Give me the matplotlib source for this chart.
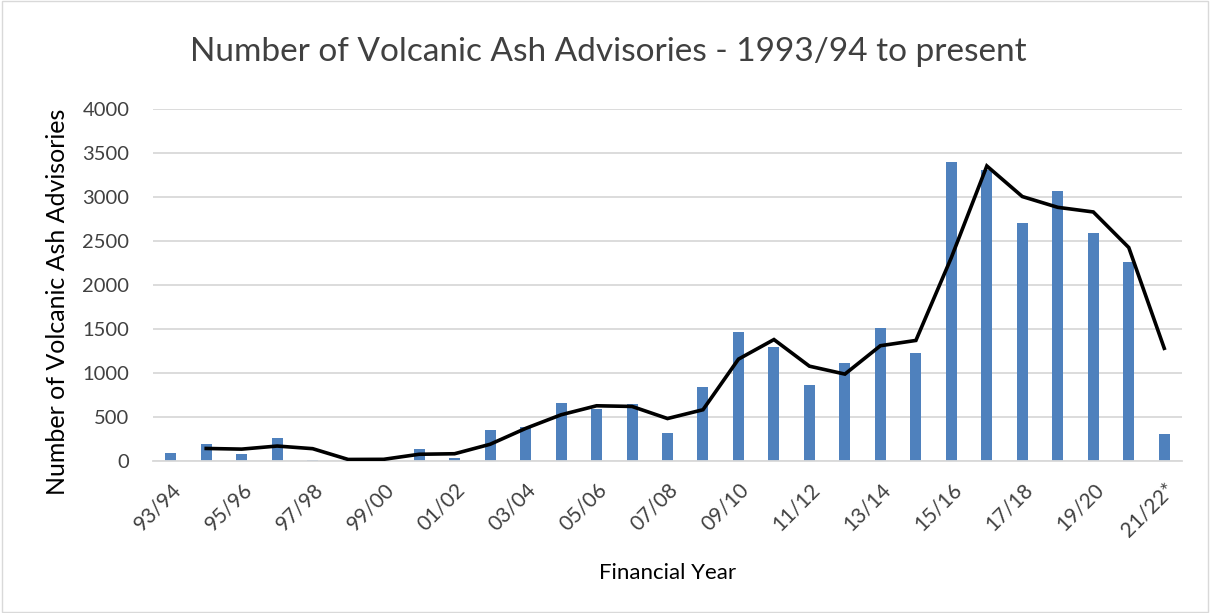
import matplotlib
matplotlib.use("Agg")
import matplotlib.pyplot as plt
import numpy as np

years = ["93/94", "94/95", "95/96", "96/97", "97/98", "98/99", "99/00", "00/01",
         "01/02", "02/03", "03/04", "04/05", "05/06", "06/07", "07/08", "08/09",
         "09/10", "10/11", "11/12", "12/13", "13/14", "14/15", "15/16", "16/17",
         "17/18", "18/19", "19/20", "20/21", "21/22*"]
advisories = [90, 195, 75, 265, 15, 20, 18, 135,
              30, 350, 390, 660, 595, 645, 320, 845,
              1470, 1290, 865, 1110, 1510, 1230, 3395, 3310,
              2700, 3065, 2595, 2256, 305]

plt.rcParams['font.family'] = ['Lato', 'DejaVu Sans']

fig = plt.figure(figsize=(12.10, 6.13), dpi=100)
ax = fig.add_axes([153/1210, 1 - 461/613, (1182-153)/1210, (461-109)/613])

x = np.arange(len(years))
ax.bar(x, advisories, width=0.31, color="#4F81BD", zorder=2)

vals = np.array(advisories, dtype=float)
ma = (vals[1:] + vals[:-1]) / 2
ax.plot(x[1:], ma, color="black", lw=2.6, zorder=3, solid_joinstyle="miter")

ax.set_xlim(-0.5, len(years) - 0.5)
ax.set_ylim(0, 4000)
ax.set_yticks(np.arange(0, 4001, 500))
ax.set_yticklabels([str(v) for v in range(0, 4001, 500)], fontsize=14.5, color="#404040")
ax.yaxis.grid(True, color="#D9D9D9", lw=1.3, zorder=0)
ax.set_axisbelow(True)
ax.set_xticks(x[::2])
ax.set_xticklabels(years[::2], rotation=45, ha="right", rotation_mode="anchor",
                   fontsize=15, color="#404040")
ax.tick_params(axis="y", length=0, pad=17)
ax.tick_params(axis="x", length=0, pad=13)
for s in ["top", "right", "left"]:
    ax.spines[s].set_visible(False)
ax.spines["bottom"].set_color("#D9D9D9")
ax.spines["bottom"].set_linewidth(1.3)

ax.set_ylabel("Number of Volcanic Ash Advisories", fontsize=18, color="black",
              va="center")
ax.yaxis.set_label_coords((57 - 153) / 1029, (461 - 302) / 352)
ax.set_xlabel("Financial Year", fontsize=16, color="black", labelpad=16)
fig.text(608/1210, 1 - 52/613, "Number of Volcanic Ash Advisories - 1993/94 to present",
         ha="center", va="center", fontsize=24, color="#404040")

border = plt.Rectangle((0.002, 0.002), 0.996, 0.996, transform=fig.transFigure,
                       fill=False, edgecolor="#D9D9D9", lw=1)
fig.patches.append(border)

fig.savefig("out.png", dpi=100)
